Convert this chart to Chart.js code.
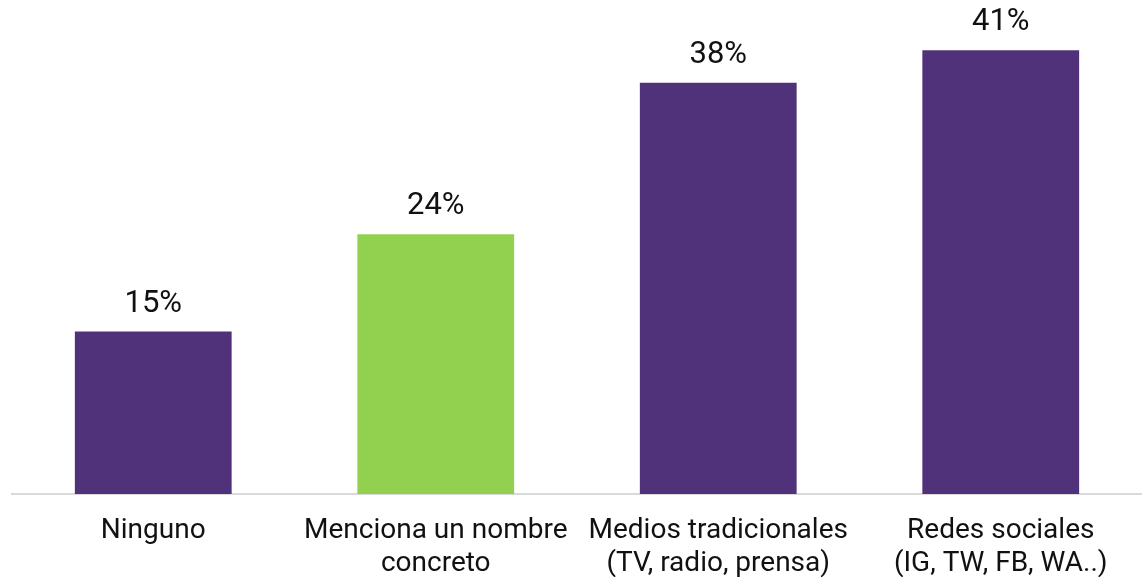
<!DOCTYPE html>
<html>
<head>
<meta charset="utf-8">
<script src="https://cdn.jsdelivr.net/npm/chart.js@4"></script>
<style>
html,body{margin:0;padding:0;background:#fff;}
#wrap{width:1142px;height:577px;position:relative;}
</style>
</head>
<body>
<div id="wrap"><canvas id="grafico"></canvas></div>
<script>
const categorias=[['Ninguno'],['Menciona un nombre','concreto'],['Medios tradicionales','(TV, radio, prensa)'],['Redes sociales','(IG, TW, FB, WA..)']];
const valores=[15,24,38,41];
const colores=['#50327A','#92D050','#50327A','#50327A'];

// etiquetas de valor encima de cada barra
const etiquetas={id:'etiquetas',afterDatasetsDraw(chart){
  const ctx=chart.ctx;const meta=chart.getDatasetMeta(0);
  ctx.save();ctx.font='31px Roboto';ctx.fillStyle='#111';ctx.textAlign='center';ctx.textBaseline='alphabetic';
  meta.data.forEach((bar,i)=>{ctx.fillText(valores[i]+'%',bar.x,bar.y-20);});
  ctx.restore();
}};

new Chart(document.getElementById('grafico'),{
  type:'bar',
  data:{labels:categorias,datasets:[{data:valores,backgroundColor:colores,categoryPercentage:1,barPercentage:0.555}]},
  options:{
    responsive:true,maintainAspectRatio:false,animation:false,
    layout:{padding:{left:12,right:0,top:7,bottom:-17}},
    plugins:{legend:{display:false},tooltip:{enabled:false}},
    scales:{
      x:{grid:{display:false},border:{display:true,color:'#d9d9d9',width:2},
         ticks:{color:'#111',font:{family:'Roboto',size:28,lineHeight:1.18},padding:13}},
      y:{display:false,min:0,max:45}
    }
  },
  plugins:[etiquetas]
});
</script>
</body>
</html>
